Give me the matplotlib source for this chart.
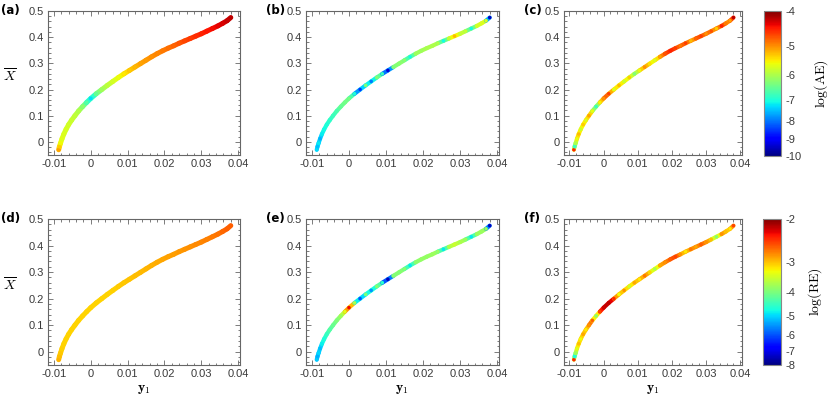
import numpy as np
import matplotlib
matplotlib.use("Agg")
import matplotlib.pyplot as plt
from matplotlib.collections import LineCollection
from matplotlib.colors import FuncNorm
from matplotlib.ticker import MultipleLocator, FixedLocator, FixedFormatter

plt.rcParams['axes.unicode_minus'] = False
plt.rcParams['font.family'] = ['Liberation Sans', 'DejaVu Sans']
plt.rcParams['mathtext.fontset'] = 'cm'

# curva y1 vs X
y1 = [-0.0087, -0.0085, -0.0082, -0.0078, -0.0073, -0.0067, -0.0060, -0.0052,
      -0.0043, -0.0033, -0.0022, -0.0011, 0.0000, 0.0015, 0.0030, 0.0045,
      0.0060, 0.0075, 0.0090, 0.0105, 0.0120, 0.0135, 0.0150, 0.0165,
      0.0180, 0.0195, 0.0210, 0.0225, 0.0240, 0.0255, 0.0270, 0.0285,
      0.0300, 0.0315, 0.0330, 0.0345, 0.0358, 0.0370, 0.0380]
xbar = [-0.030, -0.018, -0.005, 0.012, 0.030, 0.048, 0.066, 0.083,
        0.100, 0.118, 0.135, 0.151, 0.166, 0.184, 0.200, 0.216,
        0.231, 0.246, 0.260, 0.273, 0.286, 0.299, 0.312, 0.325,
        0.337, 0.348, 0.358, 0.367, 0.377, 0.386, 0.395, 0.404,
        0.413, 0.423, 0.433, 0.443, 0.453, 0.463, 0.475]

# log(AE)
ae_a = [-5.1, -5.3, -5.55, -5.65, -5.7, -5.72, -5.75, -5.8, -5.85, -5.95, -6.2, -6.6,
        -7.3, -6.5, -6.1, -5.9, -5.75, -5.6, -5.45, -5.3, -5.2, -5.1, -5.05,
        -5.0, -4.95, -4.9, -4.85, -4.8, -4.72, -4.66, -4.6, -4.55, -4.5, -4.45,
        -4.4, -4.35, -4.3, -4.25, -4.2]
ae_b = [-7.3, -7.5, -7.2, -7.6, -7.2, -7.1, -7.0, -6.9, -6.8, -6.7, -6.5, -6.4,
        -6.35, -7.0, -8.5, -6.3, -8.0, -6.3, -6.8, -9.3, -6.3, -6.25, -6.2, -7.1,
        -6.1, -6.1, -6.0, -6.0, -5.95, -7.1, -5.9, -5.2, -5.85, -5.8, -7.1, -5.75,
        -5.7, -5.7, -9.5]
ae_c = [-4.5, -6.8, -6.0, -5.6, -5.2, -5.8, -5.3, -5.7, -5.1, -5.6, -6.8, -5.5,
        -5.0, -4.6, -5.7, -5.2, -5.8, -5.3, -6.3, -5.6, -5.0, -5.4, -5.7, -5.1,
        -4.7, -4.5, -4.6, -4.9, -4.6, -5.2, -4.8, -4.6, -5.0, -4.7, -5.3, -4.5,
        -4.9, -5.1, -4.2]

# log(RE)
re_d = [-2.95, -3.0, -3.05, -3.08, -3.1, -3.1, -3.1, -3.1, -3.1, -3.1, -3.1,
        -3.1, -3.1, -3.1, -3.1, -3.1, -3.08, -3.06, -3.04, -3.02, -3.0, -2.98,
        -2.96, -2.94, -2.92, -2.9, -2.88, -2.86, -2.84, -2.82, -2.8, -2.78,
        -2.76, -2.74, -2.71, -2.68, -2.65, -2.62, -2.6]
re_e = [-5.1, -5.3, -5.0, -5.2, -4.85, -4.7, -4.5, -4.3, -4.15, -4.0, -3.8, -3.4,
        -2.3, -3.7, -6.0, -4.0, -5.5, -3.95, -4.6, -7.4, -3.95, -3.95, -3.9, -4.9,
        -3.9, -3.85, -3.85, -3.8, -3.8, -4.9, -3.7, -3.5, -3.7, -3.75, -4.9,
        -3.8, -3.8, -3.8, -7.4]
re_f = [-2.4, -4.7, -3.8, -3.4, -3.0, -3.3, -2.9, -3.2, -2.8, -2.6, -3.9, -2.5,
        -2.2, -2.15, -2.4, -3.3, -2.8, -3.5, -2.9, -3.2, -2.7, -3.1, -3.7, -2.9,
        -2.8, -2.6, -2.5, -2.8, -3.2, -2.7, -2.9, -2.6, -2.8, -3.0, -3.9, -2.8,
        -3.0, -3.2, -2.5]

ae_ticks = [-4, -5, -6, -7, -8, -9, -10]
re_ticks = [-2, -3, -4, -5, -6, -7, -8]
xticks = [-0.01, 0, 0.01, 0.02, 0.03, 0.04]
xticklabels = ['-0.01', '0', '0.01', '0.02', '0.03', '0.04']
yticks = [0, 0.1, 0.2, 0.3, 0.4, 0.5]
yticklabels = ['0', '0.1', '0.2', '0.3', '0.4', '0.5']


def fwd(v):
    return -np.log10(-np.asarray(v, dtype=float))


def inv(u):
    return -10.0 ** (-np.asarray(u, dtype=float))


norm_ae = FuncNorm((fwd, inv), vmin=-10, vmax=-4)
norm_re = FuncNorm((fwd, inv), vmin=-8, vmax=-2)

W, H = 830, 398
fig = plt.figure(figsize=(8.3, 3.98), dpi=100)

frame_col = '#666666'
tick_col = '#3a3a3a'


def panel(rect, vals, norm, lw, label, ylab, xlab):
    ax = fig.add_axes(rect)
    pts = np.column_stack([y1, xbar])
    segs = np.stack([pts[:-1], pts[1:]], axis=1)
    v = np.asarray(vals)
    segv = 0.5 * (v[:-1] + v[1:])
    lc = LineCollection(segs, cmap='jet', norm=norm, linewidths=lw, capstyle='round')
    lc.set_array(segv)
    ax.add_collection(lc)
    ax.scatter(y1, xbar, c=v, cmap='jet', norm=norm, s=lw * 2.2, marker='o',
               linewidths=0, zorder=3)
    ax.set_xlim(-0.0116, 0.0405)
    ax.set_ylim(-0.05, 0.5)
    ax.xaxis.set_major_locator(FixedLocator(xticks))
    ax.xaxis.set_major_formatter(FixedFormatter(xticklabels))
    ax.yaxis.set_major_locator(FixedLocator(yticks))
    ax.yaxis.set_major_formatter(FixedFormatter(yticklabels))
    ax.xaxis.set_minor_locator(MultipleLocator(0.002))
    ax.yaxis.set_minor_locator(MultipleLocator(0.02))
    ax.tick_params(which='both', direction='in', top=True, right=True,
                   color=frame_col, width=0.6)
    ax.tick_params(which='major', length=3.5, labelsize=8, labelcolor=tick_col, pad=3)
    ax.tick_params(which='minor', length=1.8)
    for s in ax.spines.values():
        s.set_color(frame_col)
        s.set_linewidth(0.8)
    x0 = rect[0] * W
    fig.text((x0 - 47) / W if x0 < 100 else (x0 - 40) / W,
             rect[1] + rect[3] + 0.002, label, fontsize=8.5, fontweight='bold',
             ha='left', va='center', family='DejaVu Sans')
    if ylab:
        ax.set_ylabel(r'$\overline{X}$', fontsize=10, rotation=0, va='center')
        ax.yaxis.set_label_coords(-0.2, 0.55)
    if xlab:
        ax.set_xlabel(r'$\mathbf{y}_1$', fontsize=10, labelpad=2)
    return lc


top_b = (398 - 155) / H
top_h = 144 / H
bot_b = (398 - 365) / H
bot_h = 146 / H
lefts = [48 / W, 306 / W, 564 / W]
widths = [192 / W, 193 / W, 178 / W]

panel([lefts[0], top_b, widths[0], top_h], ae_a, norm_ae, 3.6, '(a)', True, False)
panel([lefts[1], top_b, widths[1], top_h], ae_b, norm_ae, 3.0, '(b)', False, False)
lc_c = panel([lefts[2], top_b, widths[2], top_h], ae_c, norm_ae, 3.0, '(c)', False, False)
panel([lefts[0], bot_b, widths[0], bot_h], re_d, norm_re, 3.6, '(d)', True, True)
panel([lefts[1], bot_b, widths[1], bot_h], re_e, norm_re, 3.0, '(e)', False, True)
lc_f = panel([lefts[2], bot_b, widths[2], bot_h], re_f, norm_re, 3.0, '(f)', False, True)


def cbar(rect, lc, ticks, label):
    cax = fig.add_axes(rect)
    cb = fig.colorbar(lc, cax=cax)
    cb.set_ticks(ticks)
    cb.set_ticklabels([str(t) for t in ticks])
    cb.ax.minorticks_off()
    cb.ax.tick_params(length=0, labelsize=8, labelcolor=tick_col, pad=3)
    cb.outline.set_edgecolor('#888888')
    cb.outline.set_linewidth(0.8)
    cb.set_label(label, fontsize=10, labelpad=8)
    return cb


cbar([764 / W, (398 - 156) / H, 17 / W, 145 / H], lc_c, ae_ticks, r'$\log(\mathrm{AE})$')
cbar([763 / W, bot_b, 18 / W, bot_h], lc_f, re_ticks, r'$\log(\mathrm{RE})$')

fig.savefig('out.png', dpi=100)
